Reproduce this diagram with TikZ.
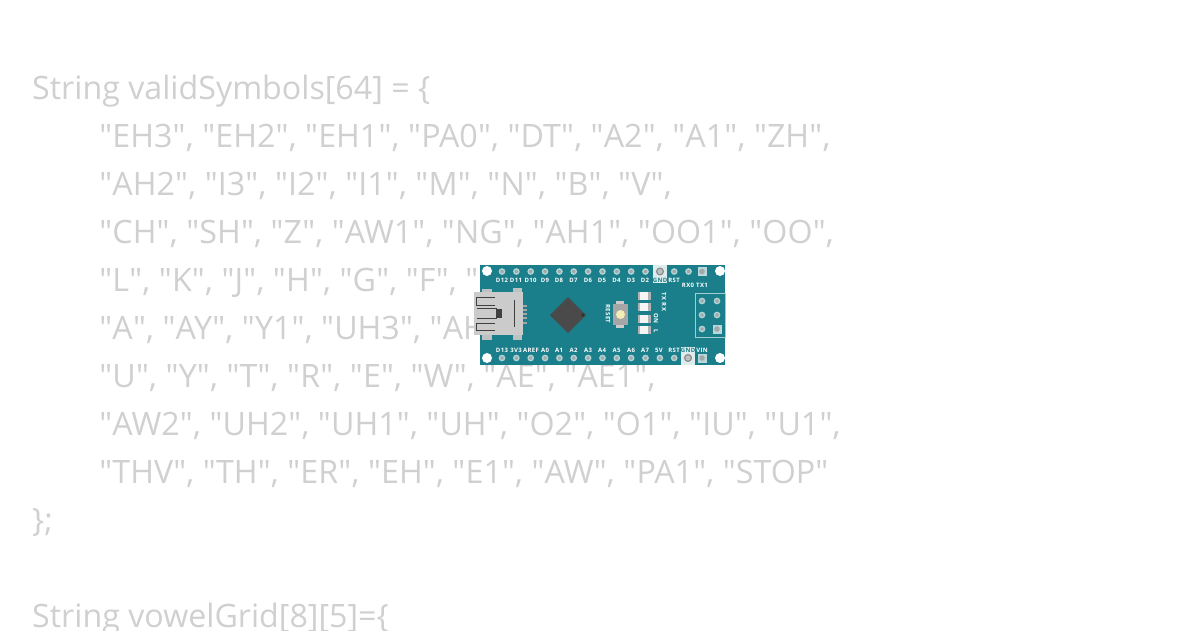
\documentclass[tikz,border=0pt]{standalone}
\usepackage{fontspec}
\newfontfamily\codefont{Open Sans}
\newfontfamily\pinfont[LetterSpace=6]{Open Sans}
\definecolor{codegray}{HTML}{D0D0D0}
\definecolor{boardteal}{HTML}{1A7F8A}
\definecolor{pingray}{HTML}{A0A8A8}
\definecolor{usbgray}{HTML}{CBCBCB}
\definecolor{chipgray}{HTML}{4A4A4A}
\definecolor{buttoncream}{HTML}{F0EDB8}
\tikzset{
    codeline/.style={anchor=base west, inner sep=0pt, text=codegray, font=\codefont\fontsize{32.2}{32}\selectfont},
    pinlabel/.style={inner sep=0pt, text=white, font=\pinfont\fontsize{6}{6}\selectfont\bfseries},
    pinhole/.style={fill=pingray, draw=white!65!boardteal, line width=1.4pt},
    usbline/.style={draw=black!75, line width=0.9pt}
}
% the quote marks of the listing are a little wider than the font's
\catcode`\"=\active
\def"{\kern.19pt\string"\kern.19pt}
\begin{document}
\begin{tikzpicture}[x=1pt, y=-1pt]
    \useasboundingbox (0,0) rectangle (1200,630);
    \fill[white] (0,0) rectangle (1200,630);
    \begin{scope}
        \clip (0,0) rectangle (1200,630);
        \node[codeline] (open) at (32,99) {String validSymbols[64] = \{};
        \node[codeline] (row1) at (99,147) {"EH3", "EH2", "EH1", "PA0", "DT", "A2", "A1", "ZH",};
        \node[codeline] (row2) at (99,195) {"AH2", "I3", "I2", "I1", "M", "N", "B", "V",};
        \node[codeline] (row3) at (99,243) {"CH", "SH", "Z", "AW1", "NG", "AH1", "OO1", "OO",};
        \node[codeline] (row4) at (99,291) {"L", "K", "J", "H", "G", "F", "};
        \node[codeline] (row5) at (99,339) {"A", "AY", "Y1", "UH3", "AH};
        \node[codeline] (row6) at (99,387) {"U", "Y", "T", "R", "E", "W", "AE", "AE1",};
        \node[codeline] (row7) at (99,435) {"AW2", "UH2", "UH1", "UH", "O2", "O1", "IU", "U1",};
        \node[codeline] (row8) at (99,483) {"THV", "TH", "ER", "EH", "E1", "AW", "PA1", "STOP"};
        \node[codeline] (close) at (32,531) {\};};
        \node[codeline] (grid) at (32,627) {String vowelGrid[8][5]=\{};
    \end{scope}
    % board
    \fill[boardteal] (480,265) rectangle (725,365);
    \foreach \cx/\cy in {487/271, 720/271, 487/358, 720/358}
        \fill[white] (\cx,\cy) circle (5);
    % pin backgrounds
    \fill[white!85!boardteal] (653,265) rectangle (667,283);
    \fill[white!85!boardteal] (681,347) rectangle (695,365);
    % pins
    \foreach \i in {0,...,13} {
        \pgfmathsetmacro{\px}{502+14.35*\i}
        \filldraw[pinhole] (\px,271.5) circle (2.6);
        \filldraw[pinhole] (\px,358) circle (2.6);
    }
    \filldraw[fill=pingray!70, draw=gray!90, line width=1.2pt] (660,271.5) circle (3.4);
    \filldraw[fill=pingray!70, draw=gray!90, line width=1.2pt] (688,358) circle (3.4);
    \foreach \cy in {271.5,358} {
        \fill[white!70!boardteal] (697.5,\cy-4.5) rectangle (706.5,\cy+4.5);
        \fill[pingray] (702,\cy) circle (2.8);
    }
    % top labels
    \foreach \txt/\px [count=\n] in {D12/502, D11/516, D10/530.5, D9/545, D8/559, D7/573.5, D6/588, D5/602, D4/616.5, D3/631, D2/645, RST/674} {
        \node[pinlabel] (top\n) at (\px,280) {\txt};
    }
    \node[pinlabel, text=boardteal] (topgnd) at (660,280) {GND};
    \node[pinlabel] (rxo) at (688,285) {RX0};
    \node[pinlabel] (txo) at (702,285) {TX1};
    % bottom labels
    \foreach \txt/\px [count=\n] in {D13/502, 3V3/516, AREF/531, A0/545, A1/559, A2/573.5, A3/588, A4/602, A5/616.5, A6/631, A7/645, 5V/659, RST/674, VIN/702} {
        \node[pinlabel] (bot\n) at (\px,350) {\txt};
    }
    \node[pinlabel, text=boardteal] (botgnd) at (688,350) {GND};
    % icsp header
    \draw[white!60!boardteal, line width=0.8pt] (695,293) rectangle (725,337);
    \foreach \cx/\cy in {702/301, 717/301, 702/315, 717/315, 702/329}
        \filldraw[pinhole] (\cx,\cy) circle (2.6);
    \fill[white!70!boardteal] (712.5,324.5) rectangle (721.5,333.5);
    \fill[pingray] (717,329) circle (2.8);
    % chip
    \fill[chipgray] (568,297) -- (586,315) -- (568,333) -- (550,315) -- cycle;
    \fill[black!80] (583,315) circle (1.8);
    % reset button
    \fill[usbgray] (616,301) rectangle (624,328);
    \fill[gray!70] (613,304) rectangle (628,325);
    \fill[buttoncream] (620.5,314.5) circle (4.5);
    \node[pinlabel, rotate=-90] (reset) at (608,314) {RESET};
    % leds
    \foreach \cy in {296,307,319,330} {
        \fill[gray!60] (638,\cy-4) rectangle (651,\cy+4);
        \fill[white!92!gray] (640,\cy-4) rectangle (648,\cy+4);
    }
    \node[pinlabel, rotate=-90] (txrx) at (664,302) {TX RX};
    \node[pinlabel, rotate=-90] (onl) at (656,323) {ON \ \ L};
    % usb connector
    \fill[pingray!70] (482,289) rectangle (492,340);
    \fill[pingray!70] (513,288) rectangle (522,340);
    \foreach \cy in {305.7,310,314.3,318.3,323.3}
        \fill[gray!70] (522,\cy-1) rectangle (527.3,\cy+1);
    \fill[usbgray] (473.5,292) rectangle (522.5,335);
    \draw[usbline] (514.3,300) -- (514.3,326.7);
    \draw[usbline] (495,297.7) -- (476.7,297.7) -- (476.7,305.7) -- (495,305.7);
    \draw[usbline] (476.7,308.3) -- (496,308.3) -- (496,318.3) -- (476.7,318.3);
    \draw[usbline] (495,323.3) -- (476.7,323.3) -- (476.7,330) -- (495,330);
    \fill[black!75] (496,309) rectangle (501.7,317.7);
\end{tikzpicture}
\end{document}
